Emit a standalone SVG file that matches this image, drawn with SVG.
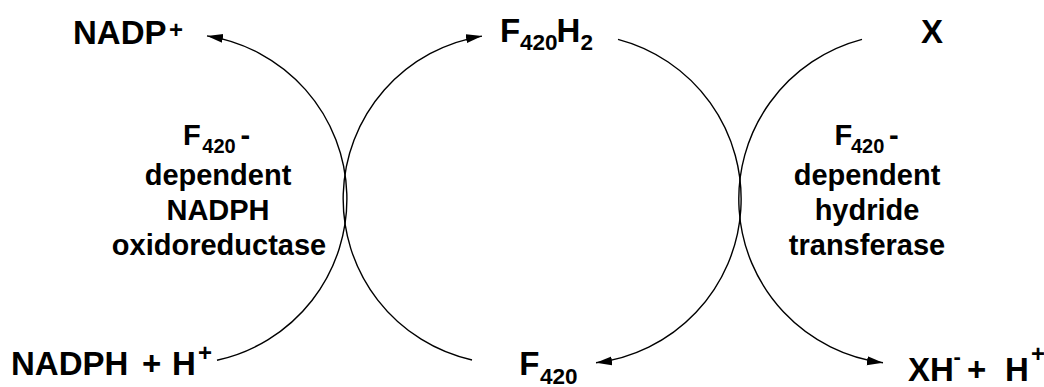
<svg xmlns="http://www.w3.org/2000/svg" width="1044" height="387" viewBox="0 0 1044 387">
<style>
.t{font-family:"Liberation Sans",Arial,sans-serif;font-weight:bold;fill:#000;font-size:33px}
.s{font-size:22.5px}
.l{font-family:"Liberation Sans",Arial,sans-serif;font-weight:bold;fill:#000;font-size:29px}
.ls{font-size:20px}
.sup{font-size:24px}
.arc{fill:none;stroke:#000;stroke-width:1.4}
</style>
<defs>
<marker id="ah" markerUnits="userSpaceOnUse" markerWidth="17" markerHeight="10" refX="16" refY="5" orient="auto">
<path d="M0,0.5 L16,5 L0,9.5 z" fill="#000"/>
</marker>
</defs>
<rect width="1044" height="387" fill="#fff"/>
<g id="connectors">
<path class="arc" d="M217 360.2 A165 165 0 0 0 207 35.9" marker-end="url(#ah)"/>
<path class="arc" d="M472 360 A165 165 0 0 1 482 36.1" marker-end="url(#ah)"/>
<path class="arc" d="M618 39.4 A165 165 0 0 1 596 362.8" marker-end="url(#ah)"/>
<path class="arc" d="M862 39.4 A165 165 0 0 0 883 362.7" marker-end="url(#ah)"/>
</g>
<g id="nadp">
<text class="t" x="73" y="43.5">NADP<tspan class="sup" x="169" y="37.6">+</tspan></text>
</g>
<g id="f420h2">
<text class="t" x="500" y="42">F<tspan class="s" x="520" y="49.5">420</tspan><tspan x="556.5" y="42">H</tspan><tspan class="s" x="580.5" y="49.5">2</tspan></text>
</g>
<g id="x">
<text class="t" x="921" y="43">X</text>
</g>
<g id="nadph">
<text class="t" x="11" y="375">NADPH<tspan x="142" y="375">+</tspan><tspan x="172" y="375">H</tspan><tspan class="sup" x="198" y="361.4">+</tspan></text>
</g>
<g id="f420">
<text class="t" x="519.3" y="375">F<tspan class="s" x="540" y="383.5">420</tspan></text>
</g>
<g id="xh">
<text class="t" x="908" y="381">XH<tspan style="font-size:22px" x="953.4" y="364">-</tspan><tspan x="967" y="381">+</tspan><tspan x="1005" y="381">H</tspan><tspan class="sup" x="1031" y="362">+</tspan></text>
</g>
<g id="enzyme1">
<text class="l" x="183" y="145">F<tspan class="ls" x="202.3" y="153">420</tspan><tspan x="240.5" y="145">-</tspan></text>
<text class="l" text-anchor="middle" x="218" y="185">dependent</text>
<text class="l" text-anchor="middle" x="218" y="220">NADPH</text>
<text class="l" text-anchor="middle" x="219" y="255">oxidoreductase</text>
</g>
<g id="enzyme2">
<text class="l" x="834.6" y="145">F<tspan class="ls" x="851" y="153">420</tspan><tspan x="889" y="145">-</tspan></text>
<text class="l" text-anchor="middle" x="867" y="185">dependent</text>
<text class="l" text-anchor="middle" x="867" y="220">hydride</text>
<text class="l" text-anchor="middle" x="867" y="255">transferase</text>
</g>
</svg>
